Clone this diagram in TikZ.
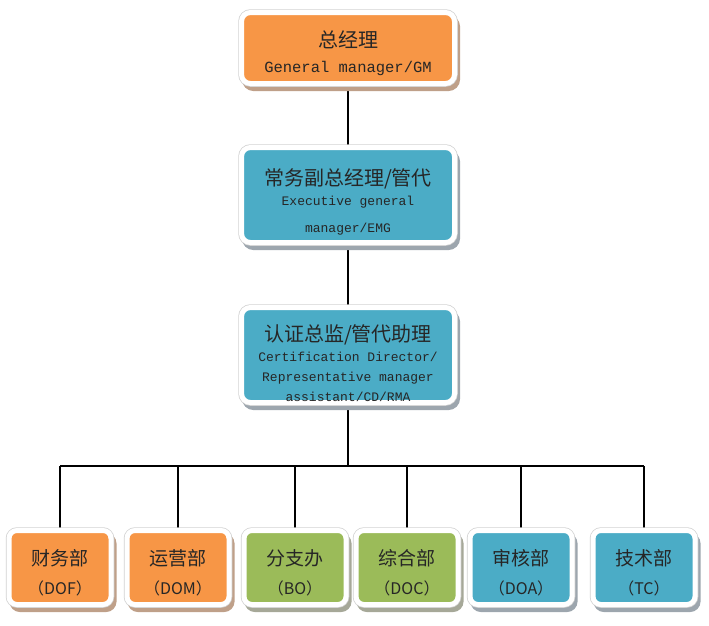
\documentclass[tikz,border=0pt]{standalone}
\usepackage{fontspec}
\setmonofont{Liberation Mono}
\newfontfamily\cjk{Noto Sans CJK SC}
\usepackage{xcolor}
\usepackage{tikz}
\usetikzlibrary{backgrounds,shadows,calc}
\definecolor{gmorange}{HTML}{F79646}
\definecolor{emgblue}{HTML}{4BACC6}
\definecolor{bogreen}{HTML}{9BBB59}
\definecolor{rimgray}{HTML}{D2D2D2}
\definecolor{orangeshade}{HTML}{BFA089}
\definecolor{blueshade}{HTML}{9DA6AE}
\definecolor{greenshade}{HTML}{A6A898}
\newcommand{\zh}[2][20]{{\cjk\fontsize{#1}{#1}\selectfont #2}}
\newcommand{\en}[2][13]{{\ttfamily\fontsize{#1}{#1}\selectfont #2}}
\newcommand{\lift}[1]{\rule{0pt}{#1}}

\begin{document}
\begin{tikzpicture}[x=1pt,y=1pt,thick]
    % `card' is the white-rimmed box with its shadow, used for every post.
    % `head' is used for the three posts on top, `dept' for the departments.
    % `link' is used for the black connecting lines.
    \tikzset{card/.style={rounded corners=9pt,draw=white,line width=5pt,align=center,inner sep=0pt,text=black!85,
        drop shadow={shadow xshift=3pt,shadow yshift=-5pt,opacity=1,fill=#1,draw=#1,line width=5pt},
        preaction={draw=rimgray,line width=6.5pt}}}
    \tikzstyle{head} = [minimum width=213pt]
    \tikzstyle{dept} = [minimum width=102pt,minimum height=74pt,rounded corners=8pt,font=\fontsize{16}{29}\selectfont]
    \tikzstyle{link} = [line width=1.6pt,black]
    \useasboundingbox (0,0) rectangle (709,-625);
    %
    % The three posts on top.
    \node[card=orangeshade,head,fill=gmorange,minimum height=71pt,font=\fontsize{15.5}{25}\selectfont] (GM) at (348,-48)
        {\lift{28pt}\zh{总经理}\\\en[15.5]{General manager/GM}};
    \node[card=blueshade,head,fill=emgblue,minimum height=95pt,font=\fontsize{13}{20}\selectfont] (EMG) at (348,-195)
        {\lift{30pt}\zh{常务副总经理/管代}\\\en{Executive general}\\[7pt]\en{manager/EMG}};
    \node[card=blueshade,head,fill=emgblue,minimum height=95pt,font=\fontsize{13}{20}\selectfont] (CD) at (348,-355)
        {\lift{34pt}\zh{认证总监/管代助理}\\\en{Certification Director/}\\\en{Representative manager}\\\en{assistant/CD/RMA}};
    %
    % The departments.
    \node[card=orangeshade,dept,fill=gmorange] (DOF) at (60,-567.5) {\lift{27pt}\zh[19]{财务部}\\{\cjk（DOF）}};
    \node[card=orangeshade,dept,fill=gmorange] (DOM) at (178,-567.5) {\lift{27pt}\zh[19]{运营部}\\{\cjk（DOM）}};
    \node[card=greenshade,dept,fill=bogreen] (BO) at (295,-567.5) {\lift{27pt}\zh[19]{分支办}\\{\cjk（BO）}};
    \node[card=greenshade,dept,fill=bogreen] (DOC) at (407,-567.5) {\lift{27pt}\zh[19]{综合部}\\{\cjk（DOC）}};
    \node[card=blueshade,dept,fill=emgblue] (DOA) at (521,-567.5) {\lift{27pt}\zh[19]{审核部}\\{\cjk（DOA）}};
    \node[card=blueshade,dept,fill=emgblue] (TC) at (644,-567.5) {\lift{27pt}\zh[19]{技术部}\\{\cjk（TC）}};
    \coordinate (bus) at (348,-466);
    %
    \begin{pgfonlayer}{background}
        % Draw lines.
        \draw[link] (GM) -- (EMG) (EMG) -- (CD) (CD) -- (bus);
        \draw[link] (bus -| DOF) -- (bus -| TC);
        \foreach \d in {DOF,DOM,BO,DOC,DOA,TC}
            \draw[link] (bus -| \d) -- (\d);
    \end{pgfonlayer}
    %
\end{tikzpicture}
\end{document}
